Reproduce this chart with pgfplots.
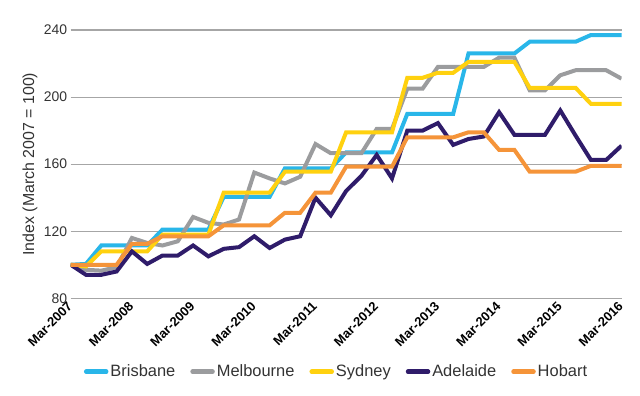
\documentclass[border=0pt]{standalone}
\usepackage{pgfplots}
\pgfplotsset{compat=1.18}
\usepackage{pgfplotstable}
\usepackage{fontspec}
\setmainfont{Liberation Sans}
\definecolor{cBris}{HTML}{29B6E9}
\definecolor{cMelb}{HTML}{9B9C9E}
\definecolor{cSyd}{HTML}{FFD10F}
\definecolor{cAdel}{HTML}{2F1C6A}
\definecolor{cHob}{HTML}{F59439}
\definecolor{cGrid}{HTML}{A6A6A6}
\definecolor{cText}{HTML}{333333}

\pgfplotstableread{
i Bris Melb Syd Adel Hob
0 100 100 100 100 100
1 100.5 97 99 94 100
2 111.5 96.5 108 94 100
3 111.5 98.5 108 96 100
4 111.5 116 108 108 112.5
5 111.5 113 108 100.5 112.5
6 121 111.5 118 105.5 117
7 121 114 118 105.5 117
8 121 128.5 118 111.5 117
9 121 125 118 105 117
10 140.5 124 143 109.5 123.5
11 140.5 127 143 110.5 123.5
12 140.5 155 143 117 123.5
13 140.5 151.5 143 110 123.5
14 157.5 148.5 155.5 115 131
15 157.5 152.5 155.5 117 131
16 157.5 172 155.5 140 143
17 157.5 166.5 155.5 129.5 143
18 167 166.5 179 144 158.5
19 167 166.5 179 153 158.5
20 167 181 179 165.5 158.5
21 167 181 179 151.5 158.5
22 190 205 211.5 180 176
23 190 205 211.5 180 176
24 190 218 214.5 184.5 176
25 190 218 214.5 171.5 176
26 226 218 221 175 179
27 226 218 221 176.5 179
28 226 223.5 221 191 168.5
29 226 223.5 221 177.5 168.5
30 233 204 205.5 177.5 155.5
31 233 204 205.5 177.5 155.5
32 233 213 205.5 192 155.5
33 233 216 205.5 177 155.5
34 237 216 196 162.5 159
35 237 216 196 162.5 159
36 237 211 196 171 159
}\data

\begin{document}
\begin{tikzpicture}
\useasboundingbox (0,0) rectangle (640bp,396bp);
\begin{axis}[
  at={(70.7bp,97.7bp)}, anchor=south west,
  width=550.8bp, height=268.3bp, scale only axis,
  xmin=0, xmax=36, ymin=80, ymax=240,
  ytick={80,120,160,200,240},
  xtick={0,4,...,36},
  xticklabels={Mar-2007,Mar-2008,Mar-2009,Mar-2010,Mar-2011,Mar-2012,Mar-2013,Mar-2014,Mar-2015,Mar-2016},
  axis line style={draw=none},
  major tick length=0pt,
  ymajorgrids, grid style={cGrid, line width=1.1bp},
  /pgf/number format/assume math mode=true,
  yticklabel style={font=\fontsize{14}{15}\selectfont, text=cText},
  xticklabel style={font=\bfseries\fontsize{13}{14}\selectfont, rotate=45, anchor=east, text=black, inner sep=1bp},
  xticklabel shift=5bp,
  ylabel={Index (March 2007 = 100)},
  ylabel style={font=\fontsize{16}{18}\selectfont, text=cText, at={(axis description cs:-0.074,0.5)}, anchor=center},
  legend style={at={(axis description cs:0.4826,-0.2736)}, anchor=center, draw=none, fill=none,
    font=\fontsize{16.5}{18}\selectfont, text=cText,
    /tikz/every even column/.append style={column sep=13bp}},
  legend columns=5,
  legend image code/.code={\draw[#1, line cap=round, line width=4.5bp] (0bp,0bp) -- (20bp,0bp);},
  every axis plot/.append style={line width=4bp, no markers},
]
\addplot[cBris] table[x=i, y=Bris] {\data};
\addlegendentry{Brisbane}
\addplot[cMelb] table[x=i, y=Melb] {\data};
\addlegendentry{Melbourne}
\addplot[cSyd] table[x=i, y=Syd] {\data};
\addlegendentry{Sydney}
\addplot[cAdel] table[x=i, y=Adel] {\data};
\addlegendentry{Adelaide}
\addplot[cHob] table[x=i, y=Hob] {\data};
\addlegendentry{Hobart}
\end{axis}
\end{tikzpicture}
\end{document}
